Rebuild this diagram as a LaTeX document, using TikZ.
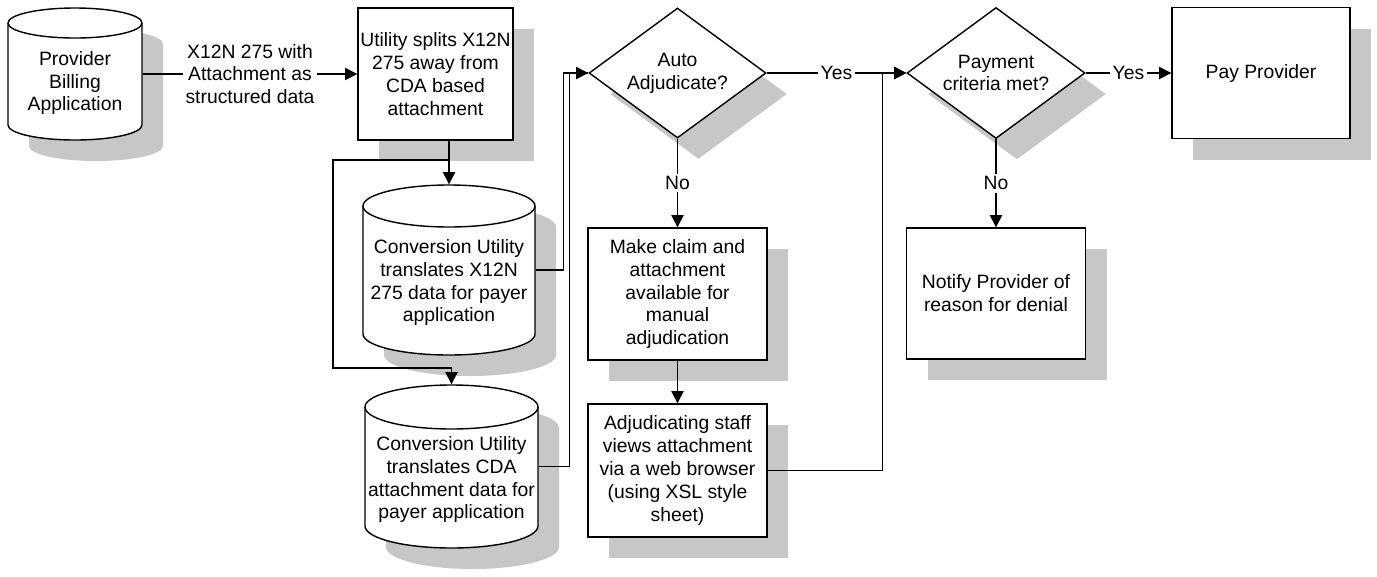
\documentclass[tikz,border=0pt]{standalone}
\usepackage{fontspec}
\setmainfont{Liberation Sans}
\usetikzlibrary{shapes.geometric}
\usetikzlibrary{shadows}
\usetikzlibrary{arrows.meta}
\def\px{0.02cm}
% name, x, y, width, height, cap radius, text
\newcommand{\drum}[7]{%
	\fill[black!22] ({#2-#4/2+21},{#3-#5/2+#6+21}) -- ++(0,{#5-2*#6}) arc(180:0:{#4/2} and #6) -- ++(0,{2*#6-#5}) arc(0:-180:{#4/2} and #6) -- cycle;
	\filldraw[fill=white] ({#2-#4/2},{#3-#5/2+#6}) -- ++(0,{#5-2*#6}) arc(180:0:{#4/2} and #6) -- ++(0,{2*#6-#5}) arc(0:-180:{#4/2} and #6) -- cycle;
	\draw ({#2-#4/2},{#3-#5/2+#6}) arc(180:0:{#4/2} and #6);
	\node[minimum width=#4*\px, minimum height=#5*\px, inner sep=0pt, label={[align=center, yshift=-0.6*#6*\px]center:{#7}}] (#1) at (#2,#3) {};
}

\begin{document}
\begin{tikzpicture}[x=\px, y=-\px, line width=0.8pt, font=\fontsize{11}{13}\selectfont,
	dropped/.style={drop shadow={shadow xshift=21*\px, shadow yshift=-21*\px, fill=black!22, opacity=1}},
	box/.style={draw, fill=white, dropped, align=center, inner sep=0pt},
	decision/.style={diamond, aspect=1.36, draw, fill=white, dropped, align=center, inner sep=0pt},
	arr/.style={-{Triangle[length=7pt, width=7pt]}},
	tag/.style={fill=white, inner sep=1.5pt, align=center}]
	\useasboundingbox (0,0) rectangle (1377,576);
	%\draw[step=50, line width=0.1mm, black!20] (0,0) grid (1377,576);
	\drum{billing}{75}{74}{134}{132}{15}{Provider\\Billing\\Application}
	\node[box, minimum width=155*\px, minimum height=132*\px] (split) at (435.5,74) {Utility splits X12N\\275 away from\\CDA based\\attachment};
	\drum{convA}{449}{270}{172}{170}{21}{Conversion Utility\\translates X12N\\275 data for payer\\application}
	\drum{convB}{451.5}{466.5}{173}{163}{22}{Conversion Utility\\translates CDA\\attachment data for\\payer application}
	\node[decision, minimum width=177*\px, minimum height=130*\px] (auto) at (677.5,73) {Auto\\Adjudicate?};
	\node[box, minimum width=179*\px, minimum height=132*\px] (manual) at (677.5,294) {Make claim and\\attachment\\available for\\manual\\adjudication};
	\node[box, minimum width=179*\px, minimum height=133*\px] (staff) at (677.5,470.5) {Adjudicating staff\\views attachment\\via a web browser\\(using XSL style\\sheet)};
	\node[decision, minimum width=178*\px, minimum height=131*\px] (paycrit) at (996,73) {Payment\\criteria met?};
	\node[box, minimum width=178*\px, minimum height=131*\px] (pay) at (1261,73) {Pay Provider};
	\node[box, minimum width=179*\px, minimum height=131*\px] (notify) at (996,293.5) {Notify Provider of\\reason for denial};
	\coordinate (fork) at (449,160);
	\coordinate (bend) at (333,368);
	\draw[arr] (billing) -- node[tag]{X12N 275 with\\Attachment as\\structured data} (split);
	\draw[arr] (convA.north |- split.south) -- (convA.north);
	\draw[arr] (fork) -| (bend) -| (convB.north);
	\draw[arr] (convA.east) -- ++(28,0) |- (auto.west);
	\draw (convB.east) -- ++(31,0) |- (auto.west);
	\draw[arr] (auto) -- node[tag]{Yes} (paycrit);
	\draw[arr] (auto) -- node[tag]{No} (manual);
	\draw[arr] (manual) -- (staff);
	\draw[arr] (staff.east) -- ++(115,0) |- (paycrit.west);
	\draw[arr] (paycrit) -- node[tag]{Yes} (pay);
	\draw[arr] (paycrit) -- node[tag]{No} (notify);
\end{tikzpicture}
\end{document}
